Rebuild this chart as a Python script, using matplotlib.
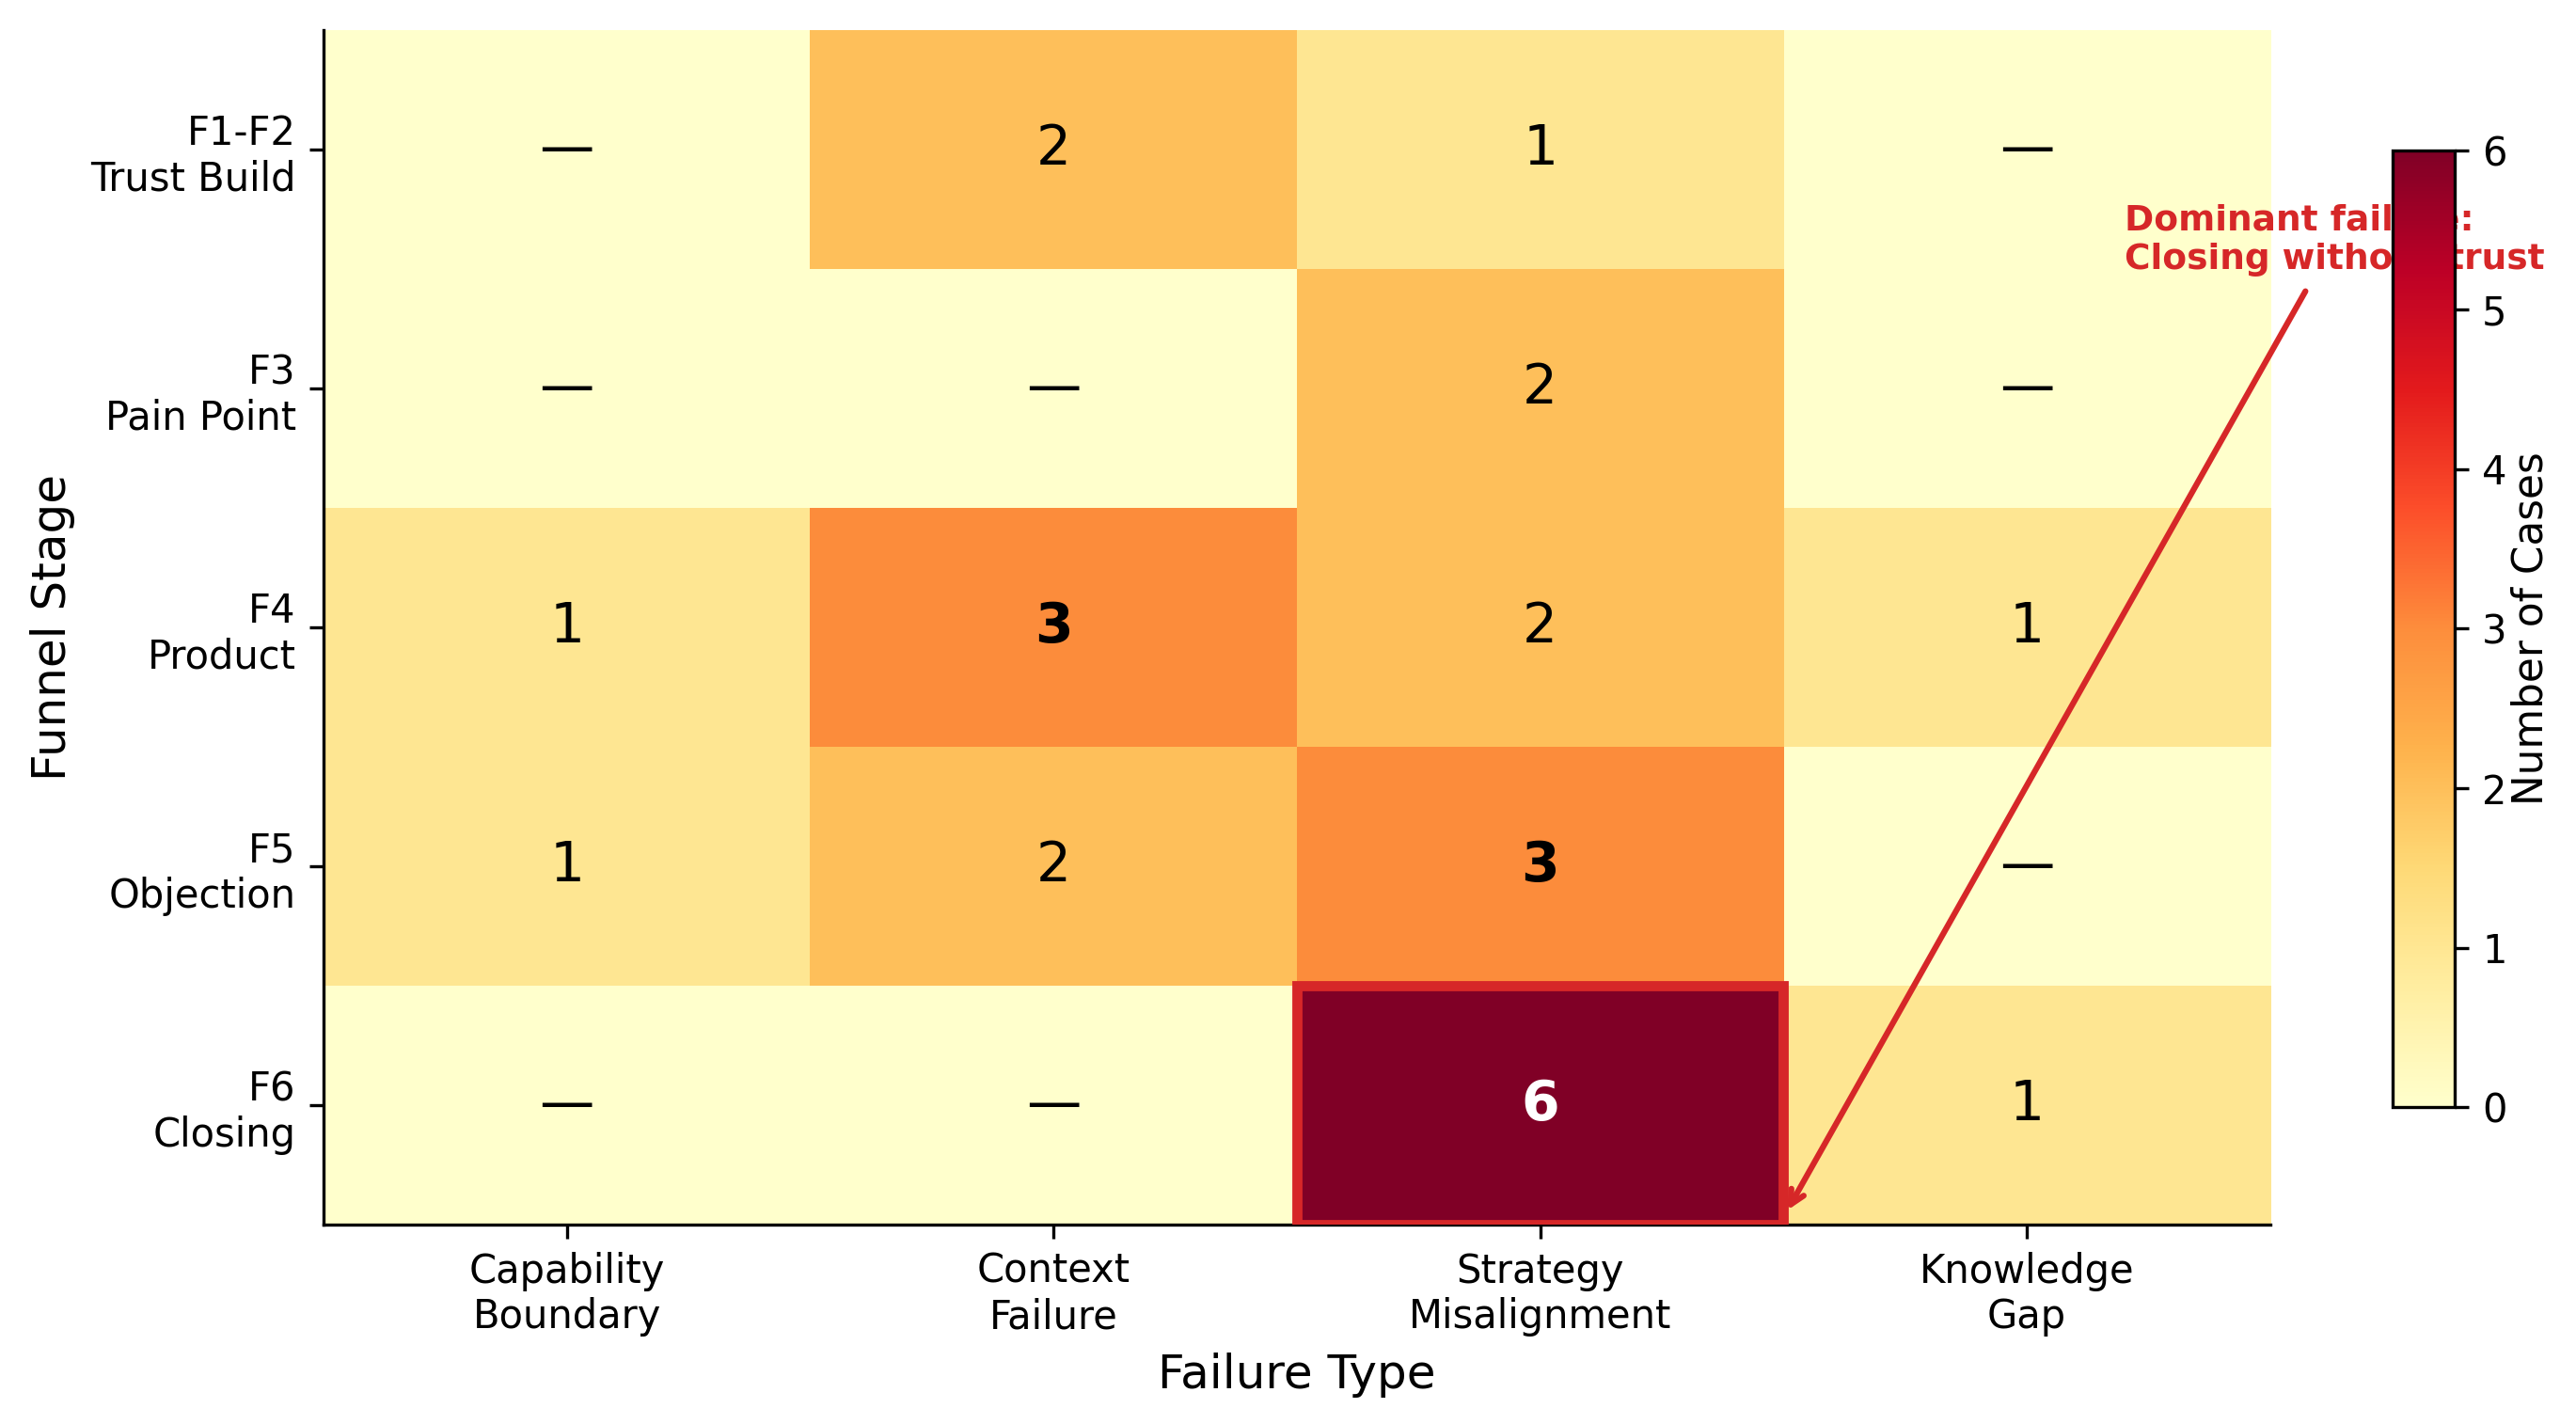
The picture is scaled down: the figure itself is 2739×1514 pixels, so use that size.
import numpy as np
import matplotlib
matplotlib.use('Agg')
import matplotlib.pyplot as plt
from matplotlib.patches import Rectangle

stages = ['F1-F2\nTrust Build', 'F3\nPain Point', 'F4\nProduct', 'F5\nObjection', 'F6\nClosing']
failure_types = ['Capability\nBoundary', 'Context\nFailure', 'Strategy\nMisalignment', 'Knowledge\nGap']

trust_build = [0, 2, 1, 0]
pain_point = [0, 0, 2, 0]
product = [1, 3, 2, 1]
objection = [1, 2, 3, 0]
closing = [0, 0, 6, 1]

counts = np.array([trust_build, pain_point, product, objection, closing])

# highlighted cell: F6 Closing x Strategy Misalignment
hl_row, hl_col = 4, 2

plt.rcParams['font.family'] = ['DejaVu Sans']
red = '#d62728'

fig = plt.figure(figsize=(9.1333, 5.0467), dpi=300)
ax = fig.add_axes([0.1255, 0.1403, 0.7555, 0.8387])

im = ax.imshow(counts, cmap='YlOrRd', vmin=0, vmax=6, aspect='auto')

for i in range(counts.shape[0]):
    for j in range(counts.shape[1]):
        v = counts[i, j]
        if v == 0:
            ax.text(j, i, '\u2014', ha='center', va='center', fontsize=14, color='black')
        else:
            ax.text(j, i, str(v), ha='center', va='center', fontsize=14,
                    color='white' if v >= 5 else 'black',
                    fontweight='bold' if v >= 3 else 'normal')

ax.add_patch(Rectangle((hl_col - 0.5, hl_row - 0.5), 1, 1, fill=False,
                       edgecolor=red, linewidth=2.6, zorder=3))

ax.annotate('Dominant failure:\nClosing without trust',
            xy=(hl_col + 0.5, hl_row + 0.47), xytext=(3.2, 0.38),
            ha='left', va='center', fontsize=9, fontweight='bold', color=red,
            annotation_clip=False,
            arrowprops=dict(arrowstyle='->', color=red, lw=1.5))

ax.set_xticks(range(len(failure_types)))
ax.set_xticklabels(failure_types, fontsize=10)
ax.set_yticks(range(len(stages)))
ax.set_yticklabels(stages, fontsize=10)
ax.set_xlabel('Failure Type', fontsize=12)
ax.set_ylabel('Funnel Stage', fontsize=12)
ax.spines['top'].set_visible(False)
ax.spines['right'].set_visible(False)

cax = fig.add_axes([0.9285, 0.2225, 0.024, 0.672])
cbar = fig.colorbar(im, cax=cax)
cbar.set_ticks(range(0, 7))
cbar.ax.tick_params(labelsize=10)
cbar.set_label('Number of Cases', fontsize=10.5, labelpad=1)

fig.savefig('out.png', dpi=300)
